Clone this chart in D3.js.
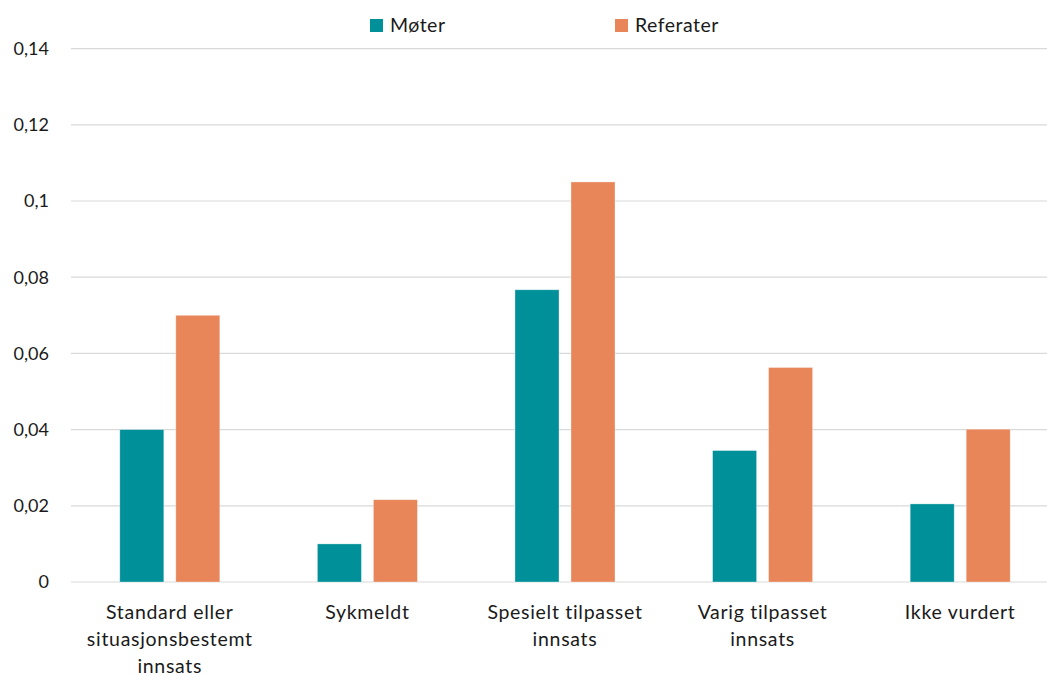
<!DOCTYPE html>
<html>
<head>
<meta charset="utf-8">
<script src="https://cdn.jsdelivr.net/npm/d3@7"></script>
<style>
  body { margin: 0; background: #fff; }
  svg { display: block; }
  text { font-family: Lato, "Open Sans", sans-serif; fill: #1a1a1a; }
</style>
</head>
<body>
<svg id="chart" width="1047" height="675"></svg>
<script>
const categories = [
  ["Standard eller", "situasjonsbestemt", "innsats"],
  ["Sykmeldt"],
  ["Spesielt tilpasset", "innsats"],
  ["Varig tilpasset", "innsats"],
  ["Ikke vurdert"]
];
const seriesNames = ["Møter", "Referater"];
const moter = [0.040, 0.010, 0.0767, 0.0345, 0.0205];
const referater = [0.070, 0.0216, 0.105, 0.0563, 0.0401];
const yTicks = [0, 0.02, 0.04, 0.06, 0.08, 0.1, 0.12, 0.14];
const colors = ["#00909A", "#E8865A"];

const svg = d3.select("#chart");
const plotLeft = 71, plotRight = 1059, plotTop = 48.6, plotBottom = 582;

const x = d3.scaleBand().domain(d3.range(categories.length)).range([plotLeft, plotRight]).padding(0);
const y = d3.scaleLinear().domain([0, 0.14]).range([plotBottom, plotTop]);
const fmt = v => String(v).replace(".", ",");

// gridlines
svg.append("g").selectAll("line").data(yTicks).join("line")
  .attr("x1", plotLeft).attr("x2", 1047)
  .attr("y1", d => y(d)).attr("y2", d => y(d))
  .attr("stroke", "#d9d9d9").attr("stroke-width", 1.2);

// y labels
svg.append("g").selectAll("text").data(yTicks).join("text")
  .attr("x", 49).attr("y", d => y(d)).attr("dy", "0.35em")
  .attr("text-anchor", "end").attr("font-size", 18)
  .text(fmt);

// bars
const barW = 44, gap = 12;
const data = [moter, referater];
data.forEach((vals, si) => {
  svg.append("g").selectAll("rect").data(vals).join("rect")
    .attr("x", (d, i) => x(i) + x.bandwidth() / 2 - (barW + gap / 2) + si * (barW + gap))
    .attr("y", d => y(d))
    .attr("width", barW)
    .attr("height", d => plotBottom - y(d))
    .attr("fill", colors[si])
    .attr("stroke", "#ffffff").attr("stroke-opacity", 0.4).attr("stroke-width", 0.8);
});

// x labels
const xl = svg.append("g");
categories.forEach((lines, i) => {
  const t = xl.append("text")
    .attr("text-anchor", "middle").attr("font-size", 19.5).attr("letter-spacing", 0.7);
  lines.forEach((ln, j) => {
    t.append("tspan").attr("x", x(i) + x.bandwidth() / 2).attr("y", 619 + j * 27).text(ln);
  });
});

// legend
const legX = [370, 615];
seriesNames.forEach((n, i) => {
  svg.append("rect").attr("x", legX[i]).attr("y", 19).attr("width", 13).attr("height", 13).attr("fill", colors[i]);
  svg.append("text").attr("x", legX[i] + 20).attr("y", 32).attr("font-size", 19.5).attr("letter-spacing", 0.5).text(n);
});
</script>
</body>
</html>
